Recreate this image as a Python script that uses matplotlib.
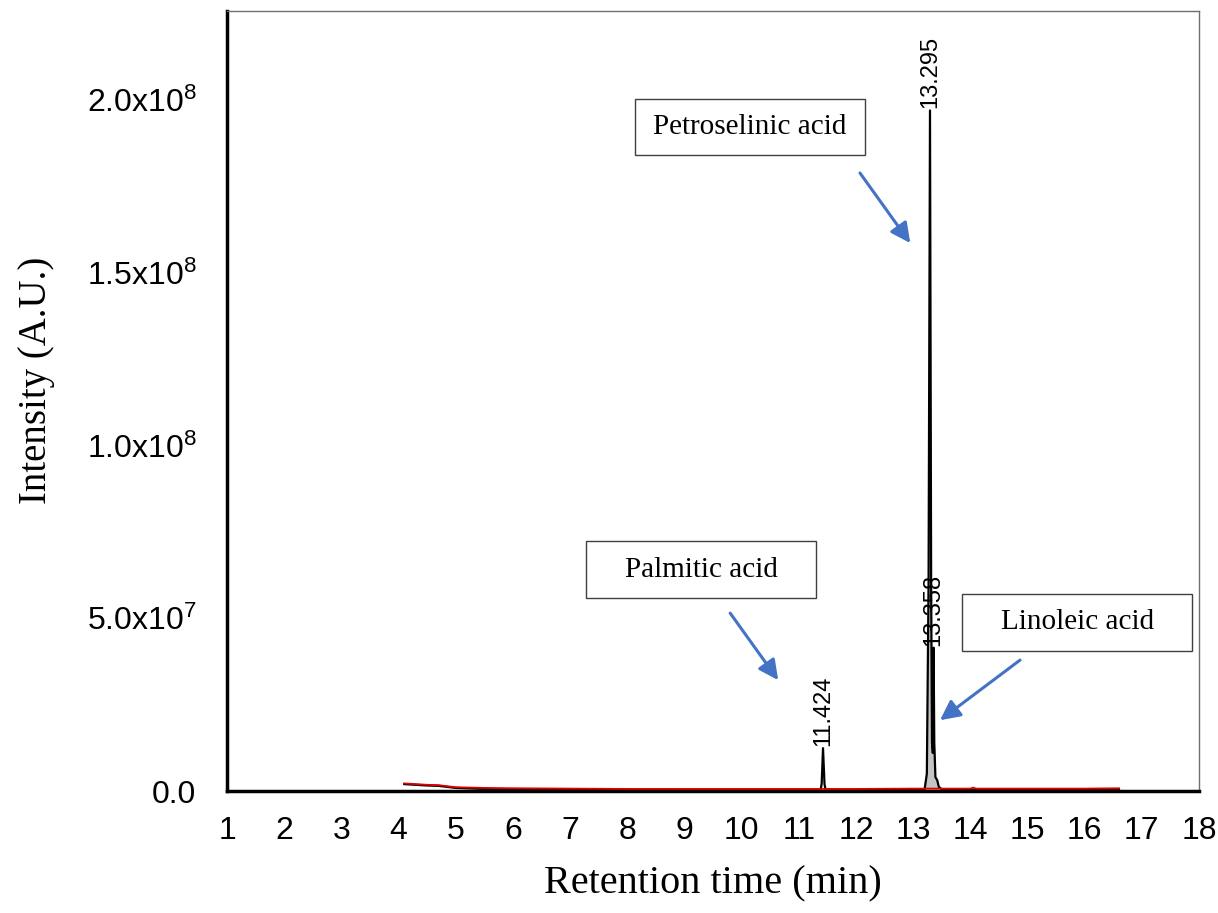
"""
GC chromatogram of seed oil fatty acids (retention time vs intensity)
"""

import matplotlib
matplotlib.use("Agg")
import matplotlib.pyplot as plt
from matplotlib.patches import Rectangle

# sans text for ticks, serif for labels and boxes
plt.rcParams['font.family'] = 'Liberation Sans'
plt.rcParams['mathtext.fontset'] = 'custom'
plt.rcParams['mathtext.rm'] = 'Liberation Sans'
plt.rcParams['mathtext.it'] = 'Liberation Sans'
SERIF = 'Liberation Serif'

# Black trace (sample chromatogram), time in min, intensity in A.U.
black_time = [4.10, 4.50, 4.70, 5.00, 5.50, 6.00, 7.00, 8.00, 9.00, 10.00, 11.00,
              11.38, 11.40, 11.424, 11.45, 11.47, 12.00, 13.00, 13.20, 13.24,
              13.27, 13.295, 13.315, 13.33, 13.345, 13.358, 13.37, 13.39,
              13.42, 13.45, 13.50, 14.00, 15.00, 16.00, 16.60]
black_int = [2.0e6, 1.6e6, 1.5e6, 0.9e6, 0.6e6, 0.5e6, 0.4e6, 0.35e6, 0.3e6, 0.3e6, 0.3e6,
             0.3e6, 2.0e6, 12.4e6, 2.0e6, 0.3e6, 0.3e6, 0.3e6, 0.4e6, 5.0e6,
             60e6, 197e6, 60e6, 14e6, 11e6, 41.5e6, 14e6, 4.0e6,
             3.2e6, 1.2e6, 0.5e6, 0.4e6, 0.4e6, 0.4e6, 0.5e6]

# Red trace (blank), baseline only
red_time = [4.10, 4.50, 4.70, 5.00, 5.50, 6.00, 7.00, 8.00, 10.00, 12.00, 13.00,
            14.00, 14.05, 14.10, 15.00, 16.00, 16.60]
red_int = [2.2e6, 1.8e6, 1.7e6, 1.1e6, 0.9e6, 0.8e6, 0.7e6, 0.6e6, 0.6e6, 0.6e6, 0.7e6,
           0.7e6, 1.0e6, 0.7e6, 0.7e6, 0.7e6, 0.8e6]

# labelled peaks
peak_rt = [11.424, 13.295, 13.358]
peak_height = [12.4e6, 197e6, 41.5e6]
peak_text = ['11.424', '13.295', '13.358']

# compound boxes: name, box centre (time, intensity), arrow tail, arrow head
compounds = ['Petroselinic acid', 'Palmitic acid', 'Linoleic acid']
box_centre = [(10.15, 1.922e8), (9.29, 0.641e8), (15.87, 0.488e8)]
arrow_tail = [(12.07, 1.789e8), (9.80, 0.515e8), (14.87, 0.379e8)]
arrow_head = [(12.95, 1.586e8), (10.64, 0.321e8), (13.47, 0.205e8)]

yticks = [0, 5e7, 1e8, 1.5e8, 2e8]
ytick_labels = ['0.0', r'5.0x10$^{7}$', r'1.0x10$^{8}$', r'1.5x10$^{8}$', r'2.0x10$^{8}$']
xticks = list(range(1, 19))

fig = plt.figure(figsize=(12.18, 9.13), dpi=100)
ax = fig.add_axes([0.1864, 0.1336, 0.798, 0.8544])

# grey fill under the main peak
main = [i for i, t in enumerate(black_time) if 13.20 <= t <= 13.50]
ax.fill_between([black_time[i] for i in main], [black_int[i] for i in main],
                color='#c4c4c4', lw=0, zorder=1)
ax.plot(black_time, black_int, color='black', lw=1.6, zorder=3)
ax.plot(red_time, red_int, color='#e00000', lw=1.3, zorder=3.5)

for rt, h, txt in zip(peak_rt, peak_height, peak_text):
    ax.text(rt, h + 0.6e6, txt, rotation=90, ha='center', va='bottom',
            fontsize=17, zorder=4)

box_w = 4.02
box_h = 1.63e7
for name, (cx, cy), tail, head in zip(compounds, box_centre, arrow_tail, arrow_head):
    ax.add_patch(Rectangle((cx - box_w / 2, cy - box_h / 2), box_w, box_h,
                           facecolor='white', edgecolor='#404040', lw=1.0, zorder=5))
    ax.text(cx, cy, name, ha='center', va='center', fontsize=21,
            family=SERIF, zorder=6)
    ax.annotate('', xy=head, xytext=tail, zorder=6,
                arrowprops=dict(arrowstyle='-|>,head_length=1.2,head_width=0.6',
                                color='#4472c4', lw=2.2, shrinkA=0, shrinkB=0))

ax.set_xlim(1, 18)
ax.set_ylim(0, 2.258e8)
ax.set_xticks(xticks)
ax.set_yticks(yticks)
ax.set_yticklabels(ytick_labels)
ax.tick_params(axis='both', length=0, labelsize=23)
ax.tick_params(axis='x', pad=18)
ax.tick_params(axis='y', pad=22)

for side in ['left', 'bottom']:
    ax.spines[side].set_linewidth(2.5)
    ax.spines[side].set_color('black')
for side in ['top', 'right']:
    ax.spines[side].set_linewidth(1.0)
    ax.spines[side].set_color('#707070')

ax.set_xlabel('Retention time (min)', family=SERIF, fontsize=29)
ax.set_ylabel('Intensity (A.U.)', family=SERIF, fontsize=28)
ax.xaxis.set_label_coords(0.5, -0.095)
ax.yaxis.set_label_coords(-0.177, 0.526)

fig.savefig('out.png', dpi=100)
